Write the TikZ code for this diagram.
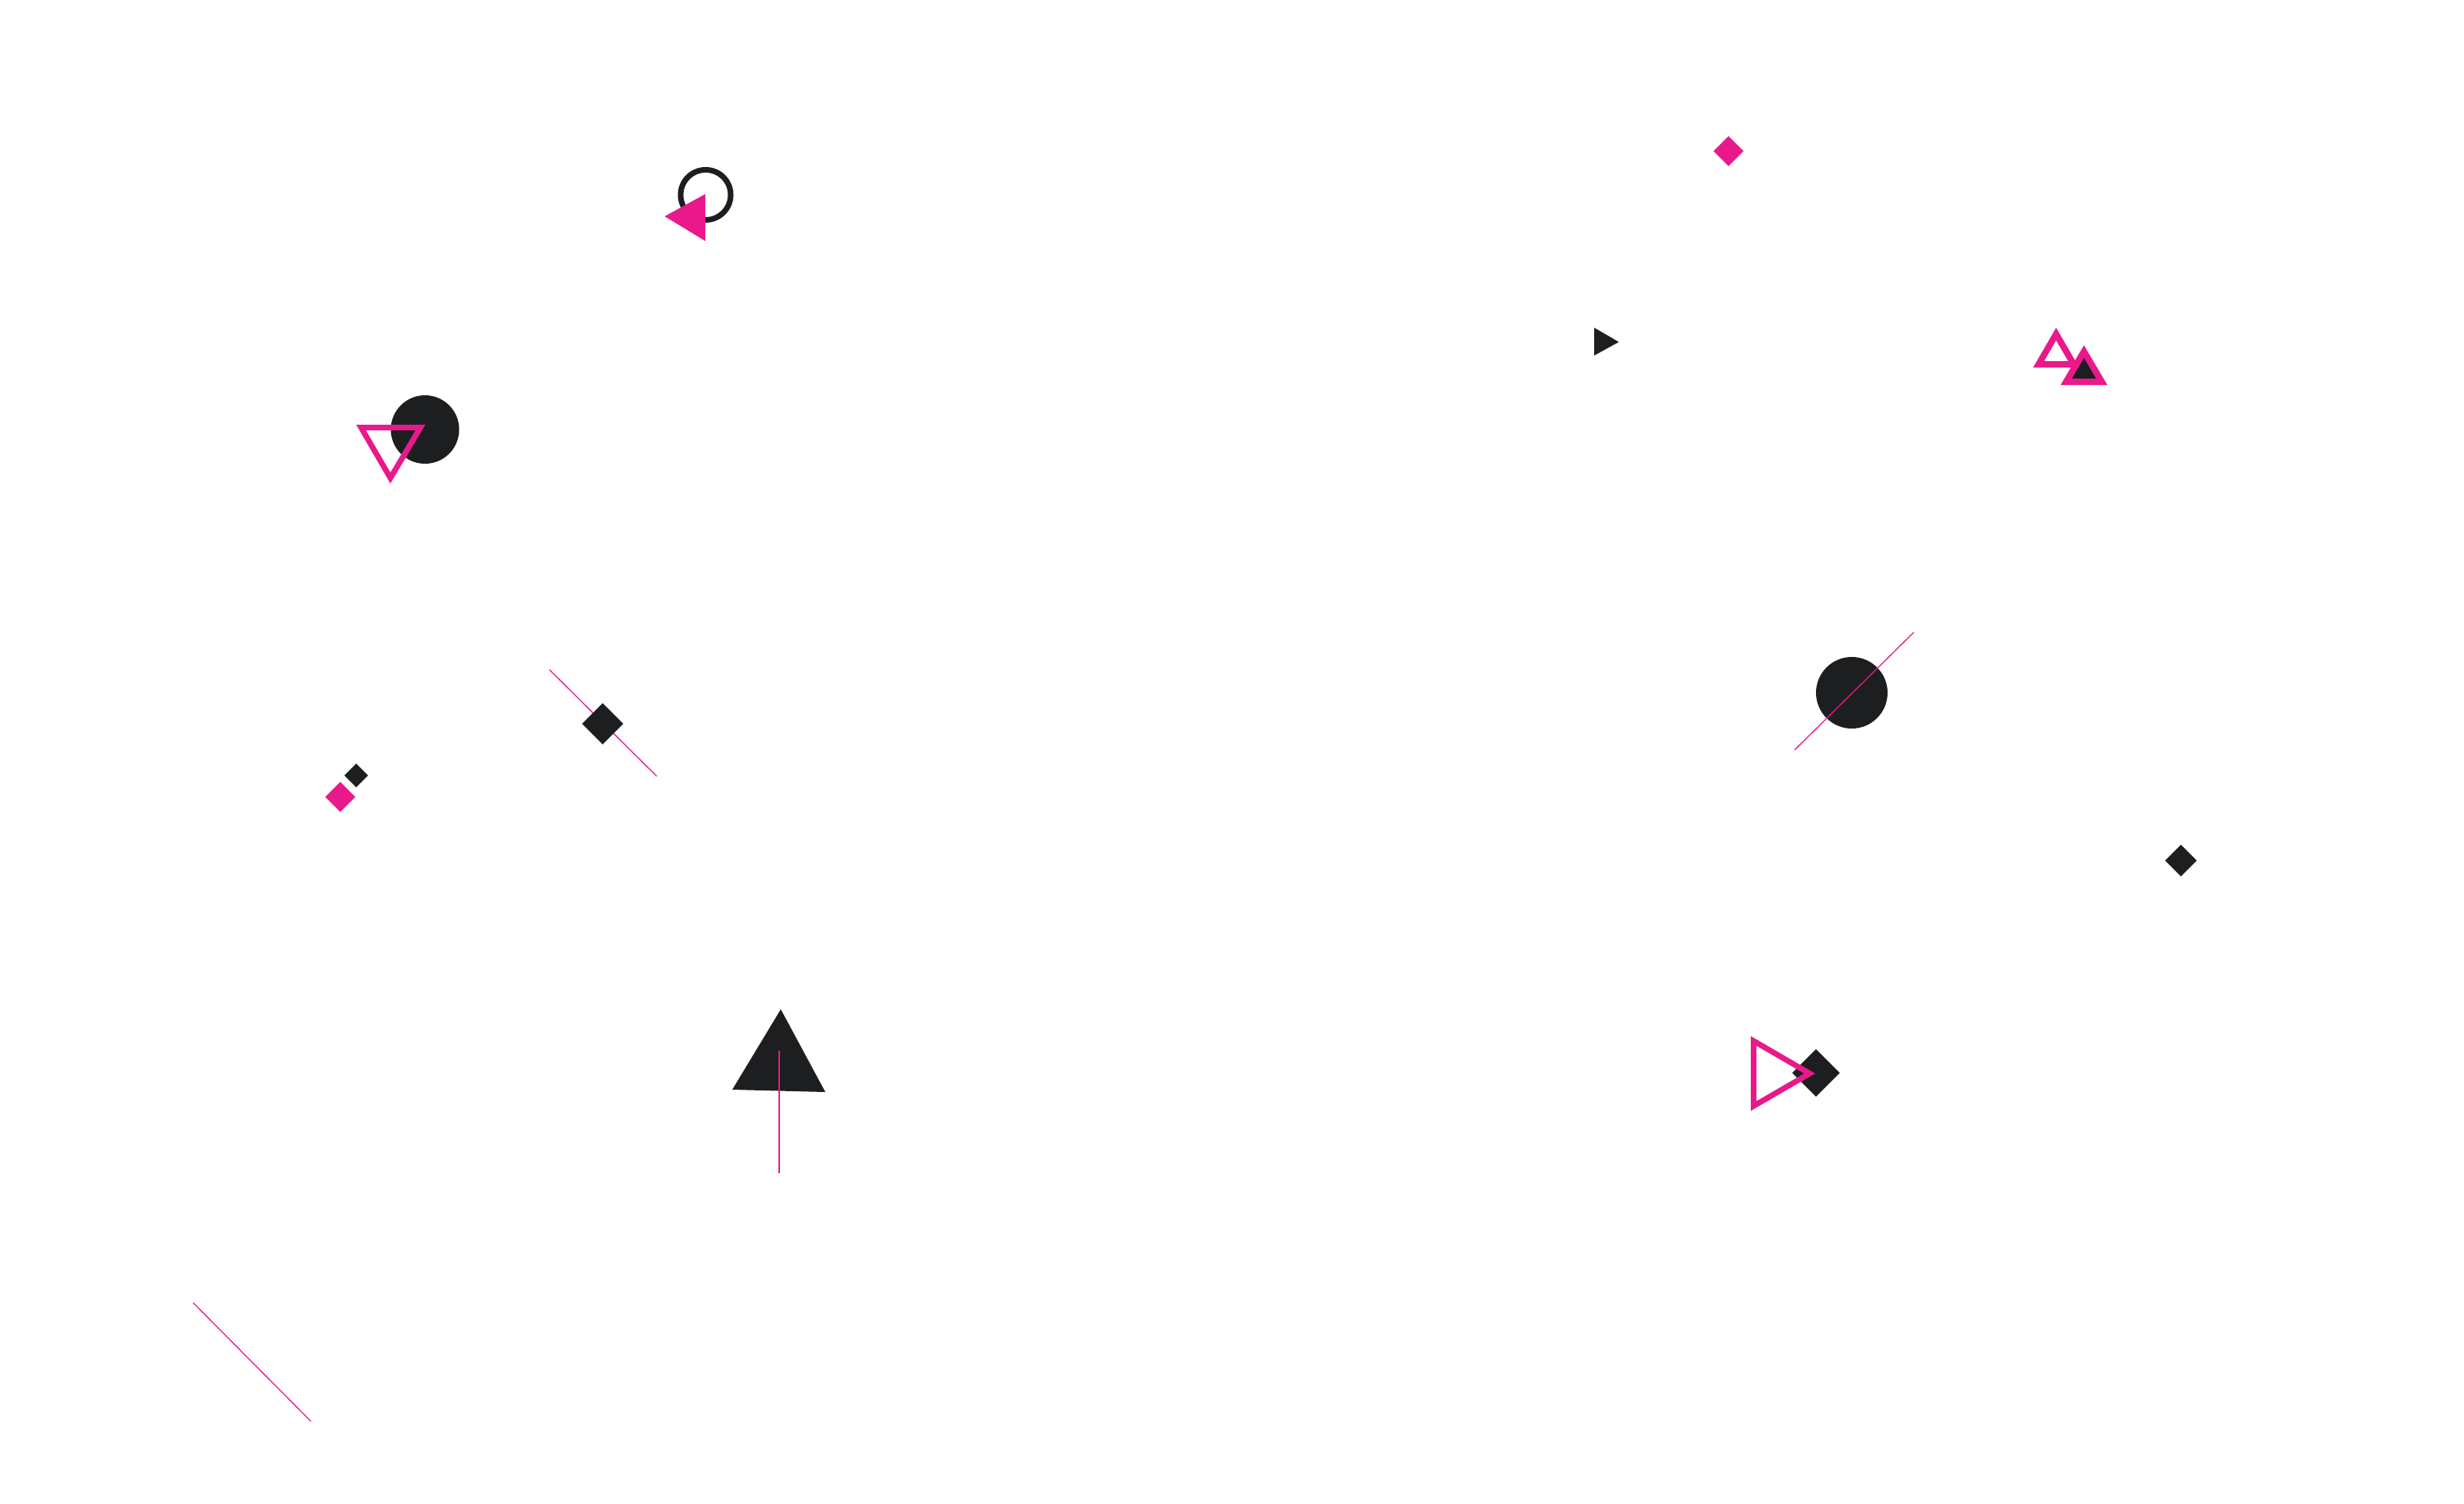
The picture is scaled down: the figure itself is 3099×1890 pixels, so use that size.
\documentclass[tikz,border=0pt]{standalone}
\usetikzlibrary{shapes.geometric}
\definecolor{pinkc}{RGB}{233,25,139}
\definecolor{darkc}{RGB}{29,30,32}
\begin{document}
\begin{tikzpicture}[x=1pt,y=-1pt,
  dmd/.style={diamond,aspect=1,inner sep=0pt,draw=none,minimum size=#1},
  dot/.style={circle,inner sep=0pt,draw=none,fill=darkc,minimum size=#1},
  thinline/.style={draw=pinkc,line width=1.3pt},
  outl/.style={draw=pinkc,line join=miter,miter limit=10,line width=#1}]
\useasboundingbox[fill=white] (0,0) rectangle (3099,1890);
% ring with pink triangle
\draw[darkc,line width=7pt] (887.5,245) circle (31.5);
\fill[pinkc] (836,272) -- (887,244) -- (887,303) -- cycle;
% dark circle with pink outlined triangle
\node[dot=86pt] (c1) at (534.5,540) {};
\draw[outl=7pt] (454.1,537.5) -- (528.8,537.5) -- (491.0,601.0) -- cycle;
% top right pink diamond
\node[dmd=38pt,fill=pinkc] (d1) at (2174,190) {};
% small dark triangle
\fill[darkc] (2005,412) -- (2036,430) -- (2005,447) -- cycle;
% two triangles
\draw[outl=8pt] (2586,420) -- (2608,458) -- (2564,458) -- cycle;
\draw[outl=8pt,fill=darkc] (2621,442) -- (2643.4,480) -- (2598.6,480) -- cycle;
% big circle with line
\node[dot=90pt] (c2) at (2329,871) {};
\coordinate (la) at (2257,943);
\coordinate (lb) at (2407,795);
\draw[thinline] (la) -- (lb);
% right diamond
\node[dmd=40pt,fill=darkc] (d2) at (2743,1082) {};
% diamond + outlined triangle
\node[dmd=60pt,fill=darkc] (d3) at (2284,1349) {};
\draw[outl=7pt] (2205.5,1308.8) -- (2276,1349.7) -- (2205.5,1390.6) -- cycle;
% big dark triangle with vertical line
\fill[darkc] (982,1269) -- (1038,1373) -- (921,1370) -- cycle;
\coordinate (va) at (980,1321);
\coordinate (vb) at (980,1475);
\draw[thinline] (va) -- (vb);
% diamond on line
\coordinate (ma) at (691,842);
\coordinate (mb) at (826,976);
\draw[thinline] (ma) -- (mb);
\node[dmd=52pt,fill=darkc] (d4) at (758,910) {};
% small diamonds
\node[dmd=30pt,fill=darkc] (d5) at (448,975) {};
\node[dmd=38pt,fill=pinkc] (d6) at (428,1002) {};
% bottom-left line
\coordinate (ba) at (243,1638);
\coordinate (bb) at (391,1787);
\draw[thinline] (ba) -- (bb);
\end{tikzpicture}
\end{document}
